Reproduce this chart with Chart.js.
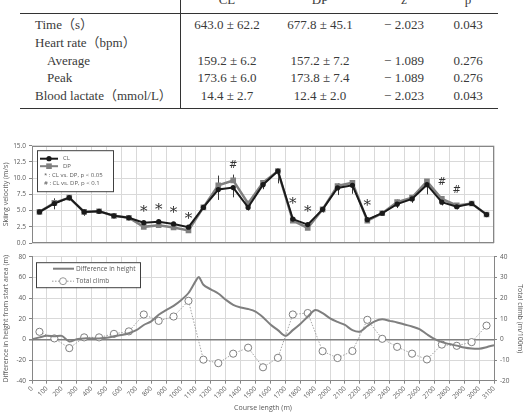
<!DOCTYPE html>
<html>
<head>
<meta charset="utf-8">
<script src="https://cdn.jsdelivr.net/npm/chart.js@4/dist/chart.umd.min.js"></script>
<style>
  body { margin: 0; width: 526px; height: 416px; overflow: hidden; background: #fff; position: relative; }
  #tbl { position: absolute; left: 0; top: 0; width: 526px; height: 112px; font-family: "Liberation Serif", "Noto Sans CJK JP", serif; color: #3a3a3a; }
  .t { position: absolute; font-size: 13px; line-height: 18px; white-space: nowrap; }
  .c { width: 110px; text-align: center; }
  .hl { position: absolute; left: 20px; width: 478px; height: 1.4px; background: #333; }
  .vl { position: absolute; left: 180px; top: 0; width: 1.4px; height: 109px; background: #333; }
  #top { position: absolute; left: 0; top: 135px; }
  #bot { position: absolute; left: 0; top: 250px; }
</style>
</head>
<body>
<div id="tbl">
  <div class="hl" style="top:13px"></div>
  <div class="hl" style="top:108px"></div>
  <div class="vl"></div>
</div>
<canvas id="top" width="526" height="115"></canvas>
<canvas id="bot" width="526" height="166"></canvas>
<script>
// table
const colHeads = ['CL', 'DP', 'z', 'p'];
const rowLabels = ['Time（s）', 'Heart rate（bpm）', 'Average', 'Peak', 'Blood lactate（mmol/L）'];
const clVals = ['643.0 ± 62.2', '', '159.2 ± 6.2', '173.6 ± 6.0', '14.4 ± 2.7'];
const dpVals = ['677.8 ± 45.1', '', '157.2 ± 7.2', '173.8 ± 7.4', '12.4 ± 2.0'];
const zVals = ['− 2.023', '', '− 1.089', '− 1.089', '− 2.023'];
const pVals = ['0.043', '', '0.276', '0.276', '0.043'];

// skiing velocity (m/s), measured at the middle of each 100 m section
const sectionMid = [50, 150, 250, 350, 450, 550, 650, 750, 850, 950, 1050, 1150, 1250, 1350, 1450, 1550,
  1650, 1750, 1850, 1950, 2050, 2150, 2250, 2350, 2450, 2550, 2650, 2750, 2850, 2950, 3050];
const velCL = [4.8, 6.1, 7.0, 4.8, 4.9, 4.2, 3.9, 3.15, 3.3, 2.95, 2.45, 5.5, 8.25, 8.55, 5.5, 9.0,
  11.1, 3.7, 2.85, 5.2, 8.5, 8.9, 3.6, 4.6, 6.0, 6.8, 9.0, 6.3, 5.6, 6.1, 4.4];
const velDP = [4.8, 6.2, 7.0, 4.8, 4.9, 4.2, 3.9, 2.5, 2.75, 2.4, 1.95, 5.5, 8.9, 9.65, 6.1, 9.3,
  11.1, 3.45, 2.35, 5.2, 8.8, 9.3, 3.45, 4.6, 6.3, 7.0, 9.5, 6.8, 5.8, 6.1, 4.4];
const sdCL = [0.3, 0.9, 0.5, 0.6, 0.4, 0.3, 0.3, 0.3, 0.3, 0.3, 0.4, 0.4, 1.6, 1.5, 0.5, 0.7,
  1.9, 0.4, 0.3, 0.5, 1.1, 1.3, 0.3, 0.4, 0.6, 0.6, 1.5, 0.5, 0.4, 0.4, 0.3];
const sdDP = [0.3, 0.7, 0.4, 0.3, 0.3, 0.3, 0.3, 0.3, 0.3, 0.3, 0.3, 0.4, 1.5, 0.9, 0.4, 0.4,
  0.3, 0.3, 0.3, 0.4, 0.4, 0.4, 0.3, 0.3, 0.4, 0.4, 0.3, 0.3, 0.3, 0.3, 0.3];
const starAt = [750, 850, 950, 1050, 1750, 1850, 2250];
const starLevel = [5.3, 5.55, 5.1, 4.1, 6.45, 5.2, 6.1];
const hashAt = [1350, 2750, 2850];
const hashLevel = [12.0, 9.3, 8.1];

// course profile
const profileDist = [0, 50, 100, 150, 200, 250, 300, 350, 400, 450, 500, 550, 600, 650, 700, 750, 800,
  850, 900, 950, 1000, 1050, 1100, 1120, 1150, 1200, 1250, 1300, 1350, 1400, 1450, 1500, 1550, 1600,
  1650, 1700, 1750, 1800, 1850, 1900, 1950, 2000, 2050, 2100, 2150, 2200, 2250, 2300, 2350, 2400,
  2450, 2500, 2550, 2600, 2650, 2700, 2750, 2800, 2850, 2900, 2950, 3000, 3050, 3100];
const heightDiff = [0, 2, 3.6, 3, 3.5, -2, 0.3, 1, 1, 1, 1.6, 3, 4.2, 6, 9, 14, 17.5,
  24, 28.5, 32.5, 38, 45, 57, 60.5, 53, 48.5, 44.5, 38.5, 33.5, 31, 29.5, 27, 21.5, 14.5,
  9, 3.5, 9, 15, 22, 28.5, 25.5, 20.5, 17, 14, 9, 7.5, 13, 17.5, 19.5, 18,
  16.5, 14.5, 12.5, 10, 5, 0.5, -2.6, -4.5, -6, -7.8, -8.8, -9, -7.5, -5.5];
const totalClimb = [3.7, 0.5, -4.2, 1.0, 1.0, 2.7, 3.9, 12.1, 9.0, 11.1, 18.7, -9.8, -11.5, -6.9, -4.0, -13.5,
  -8.9, 12.1, 12.8, -5.7, -9.0, -5.6, 9.5, 0.3, -3.6, -6.9, -9.7, -2.5, -3.1, -1.3, 6.7];

const tbl = document.getElementById('tbl');
function addText(txt, x, top, center) {
  const d = document.createElement('div');
  d.className = center ? 't c' : 't';
  d.textContent = txt;
  d.style.left = (center ? x - 55 : x) + 'px';
  d.style.top = top + 'px';
  tbl.appendChild(d);
}
const colX = [227, 320, 404, 468];
colHeads.forEach((h, i) => addText(h, colX[i], -9.5, true));
const rowTop = [16, 34, 51.7, 69.3, 87.2];
rowLabels.forEach((r, i) => {
  addText(r, (i === 2 || i === 3) ? 47 : 35, rowTop[i], false);
  [clVals, dpVals, zVals, pVals].forEach((col, j) => { if (col[i]) addText(col[i], colX[j], rowTop[i], true); });
});

const FONT = "'Open Sans', 'Noto Sans', sans-serif";
const tickFont = { family: FONT, size: 6.5 };
const txtCol = '#595959';
const gridCol = '#d9d9d9';
const axisCol = '#868686';

const topMarks = {
  id: 'topMarks',
  beforeDatasetsDraw(chart) {
    const { ctx, scales: { x, y } } = chart;
    ctx.save();
    ctx.strokeStyle = '#3a3a3a';
    ctx.lineWidth = 1;
    sectionMid.forEach((d, i) => {
      const px = Math.round(x.getPixelForValue(d)) + 0.5;
      ctx.beginPath();
      ctx.moveTo(px, y.getPixelForValue(velCL[i]));
      ctx.lineTo(px, y.getPixelForValue(velCL[i] - sdCL[i]));
      ctx.moveTo(px, y.getPixelForValue(velDP[i]));
      ctx.lineTo(px, y.getPixelForValue(velDP[i] + sdDP[i]));
      ctx.stroke();
    });
    ctx.restore();
  },
  afterDraw(chart) {
    const { ctx, chartArea: a, scales: { x, y } } = chart;
    ctx.save();
    ctx.strokeStyle = axisCol;
    ctx.lineWidth = 1;
    ctx.strokeRect(Math.round(a.left) + 0.5, Math.round(a.top) + 0.5, Math.round(a.width) - 1, Math.round(a.height) - 1);

    ctx.fillStyle = '#333';
    ctx.textAlign = 'center';
    ctx.textBaseline = 'middle';
    ctx.font = "15px 'DejaVu Serif'";
    starAt.forEach((d, i) => ctx.fillText('*', x.getPixelForValue(d), y.getPixelForValue(starLevel[i]) + 3));
    ctx.font = "10px 'DejaVu Sans'";
    hashAt.forEach((d, i) => ctx.fillText('#', x.getPixelForValue(d), y.getPixelForValue(hashLevel[i])));

    // legend
    const L = a.left + 5, T = a.top + 4.5;
    ctx.fillStyle = '#fff';
    ctx.fillRect(L, T, 76, 41);
    ctx.strokeStyle = '#404040';
    ctx.strokeRect(L + 0.5, T + 0.5, 76, 41);
    ctx.lineWidth = 2;
    ctx.strokeStyle = '#1a1a1a';
    ctx.beginPath(); ctx.moveTo(L + 3, T + 8.5); ctx.lineTo(L + 21, T + 8.5); ctx.stroke();
    ctx.fillStyle = '#1a1a1a';
    ctx.beginPath(); ctx.arc(L + 12, T + 8.5, 2.6, 0, Math.PI * 2); ctx.fill();
    ctx.strokeStyle = '#808080';
    ctx.beginPath(); ctx.moveTo(L + 3, T + 16); ctx.lineTo(L + 21, T + 16); ctx.stroke();
    ctx.fillStyle = '#808080';
    ctx.fillRect(L + 9.2, T + 13.2, 5.6, 5.6);
    ctx.fillStyle = txtCol;
    ctx.textAlign = 'left';
    ctx.font = "6px " + FONT;
    ctx.fillText('CL', L + 26, T + 8.5);
    ctx.fillText('DP', L + 26, T + 16);
    ctx.fillText('* : CL vs. DP, p < 0.05', L + 7, T + 25);
    ctx.fillText('# : CL vs. DP, p < 0.1', L + 7, T + 33.5);
    ctx.restore();
  }
};

new Chart(document.getElementById('top'), {
  type: 'line',
  data: {
    datasets: [
      {
        label: 'CL',
        data: sectionMid.map((d, i) => ({ x: d, y: velCL[i] })),
        borderColor: '#1a1a1a',
        backgroundColor: '#1a1a1a',
        borderWidth: 2,
        pointStyle: 'circle',
        pointRadius: 2.6,
        pointBorderWidth: 0
      },
      {
        label: 'DP',
        data: sectionMid.map((d, i) => ({ x: d, y: velDP[i] })),
        borderColor: '#808080',
        backgroundColor: '#808080',
        borderWidth: 2.5,
        pointStyle: 'rect',
        pointRadius: 4,
        pointBorderWidth: 0
      }
    ]
  },
  options: {
    responsive: false,
    animation: false,
    devicePixelRatio: 1,
    layout: { padding: { top: 10.7, right: 32, bottom: 6, left: 0 } },
    plugins: { legend: { display: false }, tooltip: { enabled: false } },
    scales: {
      x: {
        type: 'linear', min: 0, max: 3100,
        ticks: { stepSize: 100, display: false, autoSkip: false },
        grid: { color: gridCol, drawTicks: false },
        border: { display: false },
        afterFit(s) { s.height = 0; }
      },
      y: {
        min: 0, max: 15,
        ticks: { stepSize: 2.5, font: tickFont, color: txtCol, padding: 3, callback: v => v.toFixed(1) },
        grid: { color: gridCol, tickLength: 3, tickColor: axisCol },
        border: { display: false },
        title: { display: true, text: 'Skiing velocity (m/s)', font: { family: FONT, size: 7 }, color: txtCol, padding: 2 },
        afterFit(s) { s.width = 32; }
      }
    }
  },
  plugins: [topMarks]
});

const botMarks = {
  id: 'botMarks',
  afterDraw(chart) {
    const { ctx, chartArea: a } = chart;
    ctx.save();
    const L = a.left + 4, T = a.top + 5.3;
    ctx.fillStyle = '#fff';
    ctx.fillRect(L, T, 104, 25);
    ctx.strokeStyle = '#404040';
    ctx.lineWidth = 1;
    ctx.strokeRect(L + 0.5, T + 0.5, 104, 25);
    ctx.strokeStyle = '#7f7f7f';
    ctx.lineWidth = 2;
    ctx.beginPath(); ctx.moveTo(L + 17, T + 6.5); ctx.lineTo(L + 38, T + 6.5); ctx.stroke();
    ctx.lineWidth = 0.8;
    ctx.setLineDash([1.5, 1.5]);
    ctx.beginPath(); ctx.moveTo(L + 16, T + 19); ctx.lineTo(L + 38, T + 19); ctx.stroke();
    ctx.setLineDash([]);
    ctx.fillStyle = '#fff';
    ctx.beginPath(); ctx.arc(L + 27, T + 19, 3.5, 0, Math.PI * 2); ctx.fill(); ctx.stroke();
    ctx.fillStyle = txtCol;
    ctx.textAlign = 'left';
    ctx.textBaseline = 'middle';
    ctx.font = "6.5px " + FONT;
    ctx.fillText('Difference in height', L + 40, T + 6.5);
    ctx.fillText('Total climb', L + 40, T + 19);
    ctx.restore();
  }
};

new Chart(document.getElementById('bot'), {
  type: 'line',
  data: {
    datasets: [
      {
        label: 'Difference in height',
        data: profileDist.map((d, i) => ({ x: d, y: heightDiff[i] })),
        yAxisID: 'y',
        borderColor: '#7f7f7f',
        borderWidth: 2,
        pointRadius: 0,
        tension: 0.3
      },
      {
        label: 'Total climb',
        data: sectionMid.map((d, i) => ({ x: d, y: totalClimb[i] })),
        yAxisID: 'y1',
        borderColor: '#8c8c8c',
        borderWidth: 0.8,
        borderDash: [1.5, 1.5],
        pointRadius: 3.6,
        pointBackgroundColor: '#fff',
        pointBorderColor: '#7f7f7f',
        pointBorderWidth: 1
      }
    ]
  },
  options: {
    responsive: false,
    animation: false,
    devicePixelRatio: 1,
    layout: { padding: { top: 6.7, right: 0, bottom: 0, left: 0 } },
    plugins: { legend: { display: false }, tooltip: { enabled: false } },
    scales: {
      x: {
        type: 'linear', min: 0, max: 3100,
        ticks: { stepSize: 100, autoSkip: false, minRotation: 45, maxRotation: 45, font: tickFont, color: txtCol, padding: 1, callback: v => String(v) },
        grid: { color: gridCol, tickLength: 3, tickColor: axisCol },
        border: { color: axisCol, width: 1 },
        title: { display: true, text: 'Course length (m)', font: { family: FONT, size: 7 }, color: txtCol, padding: { top: 0, bottom: 4 } },
        afterFit(s) { s.height = 35.3; }
      },
      y: {
        position: 'left', min: -40, max: 80,
        ticks: { stepSize: 20, font: tickFont, color: txtCol, padding: 3 },
        grid: {
          color: c => c.tick && c.tick.value === 0 ? '#7f7f7f' : gridCol,
          lineWidth: c => c.tick && c.tick.value === 0 ? 1.5 : 1,
          tickLength: 3, tickColor: axisCol
        },
        border: { color: axisCol, width: 1 },
        title: { display: true, text: 'Difference in height from start area (m)', font: { family: FONT, size: 7 }, color: txtCol, padding: 2 },
        afterFit(s) { s.width = 32; }
      },
      y1: {
        position: 'right', min: -20, max: 40,
        ticks: { stepSize: 10, font: tickFont, color: txtCol, padding: 3 },
        grid: { drawOnChartArea: false, tickLength: 3, tickColor: axisCol },
        border: { color: axisCol, width: 1 },
        title: { display: true, text: 'Total climb (m/100m)', font: { family: FONT, size: 7 }, color: txtCol, padding: 2 },
        afterFit(s) { s.width = 32; }
      }
    }
  },
  plugins: [botMarks]
});
</script>
</body>
</html>
